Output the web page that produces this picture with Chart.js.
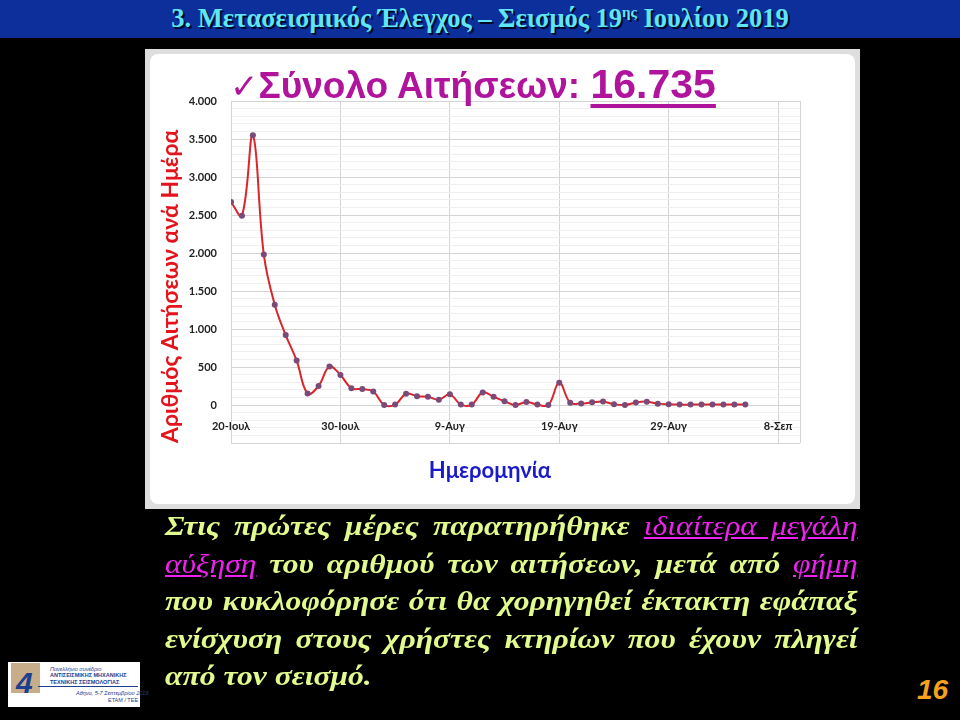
<!DOCTYPE html>
<html>
<head>
<meta charset="utf-8">
<script src="https://cdn.jsdelivr.net/npm/chart.js@4.4.0/dist/chart.umd.min.js"></script>
<style>
  html, body { margin: 0; padding: 0; background: #000; }
  body { width: 960px; height: 720px; position: relative; overflow: hidden; }
  .topbar {
    position: absolute; left: 0; top: 0; width: 960px; height: 38px;
    background: #0d2f9b;
    color: #5fe6f5; font: bold 26.5px "Liberation Serif", "Times New Roman", serif;
    text-align: center; line-height: 37px; text-shadow: 2px 2px 0 #00082a;
  }
  .topbar sup { font-size: 15px; vertical-align: 10px; line-height: 0; }
  .frame {
    position: absolute; left: 145px; top: 49px; width: 715px; height: 460px;
    background: #dedede; box-sizing: border-box; padding: 5px;
  }
  .frame .inner { width: 100%; height: 100%; background: #fff; border-radius: 8px; }
  #wrap { position: absolute; left: 145px; top: 49px; width: 715px; height: 460px; }
  .headline {
    position: absolute; left: 230px; top: 64px; color: #b0149c;
    font: bold 37px/40px "Liberation Sans", Arial, sans-serif; white-space: nowrap;
  }
  .headline .tick { font-family: "DejaVu Sans", sans-serif; font-weight: normal; font-size: 34px; }
  .headline b { font-size: 41px; text-decoration: underline; text-decoration-thickness: 4px; text-underline-offset: 6px; }
  .xtitle {
    position: absolute; left: 390px; top: 456px; width: 200px; text-align: center;
    color: #1a1ac8; font: bold 22px Lato, "Open Sans", sans-serif;
  }
  .body-text {
    position: absolute; left: 165px; top: 508px; width: 592px;
    transform: scaleX(1.17); transform-origin: 0 0;
    color: #e2fb8e; font: italic bold 27px/37.5px "Liberation Serif", "Times New Roman", serif;
  }
  .body-text span { display: block; text-align: justify; text-align-last: justify; }
  .body-text span.last { text-align-last: left; }
  .body-text u { color: #ee22ee; font-weight: normal; }
  .pagenum {
    position: absolute; left: 917px; top: 674px; color: #f5a21c;
    font: italic bold 28px "Liberation Sans", Arial, sans-serif;
  }
  .logo {
    position: absolute; left: 8px; top: 662px; width: 132px; height: 45px; background: #fff;
    font-family: "Liberation Sans", Arial, sans-serif;
  }
  .logo .sq { position: absolute; left: 3px; top: 1px; width: 29px; height: 30px; background: #c8ad8a; }
  .logo .four { position: absolute; left: 8px; top: 4px; color: #1d3f8f; font: bold italic 30px "Liberation Sans", sans-serif; }
  .logo .pulse { position: absolute; left: 30px; top: 24px; width: 100px; height: 1px; background: #1d3f8f; }
  .logo .t { position: absolute; left: 42px; color: #1d3f8f; font-size: 5.5px; font-weight: bold; white-space: nowrap; }
</style>
</head>
<body>
<div class="topbar">3. Μετασεισμικός Έλεγχος – Σεισμός 19<sup>ης</sup> Ιουλίου 2019</div>

<div class="frame"><div class="inner"></div></div>
<div id="wrap"><canvas id="requestsChart"></canvas></div>
<div class="headline"><span class="tick">✓</span>Σύνολο Αιτήσεων: <b>16.735</b></div>
<div class="xtitle">Ημερομηνία</div>

<div class="body-text">
  <span>Στις πρώτες μέρες παρατηρήθηκε <u>ιδιαίτερα μεγάλη</u></span>
  <span><u>αύξηση</u> του αριθμού των αιτήσεων, μετά από <u>φήμη</u></span>
  <span>που κυκλοφόρησε ότι θα χορηγηθεί έκτακτη εφάπαξ</span>
  <span>ενίσχυση στους χρήστες κτηρίων που έχουν πληγεί</span>
  <span class="last">από τον σεισμό.</span>
</div>

<div class="logo">
  <div class="sq"></div>
  <div class="four">4</div>
  <div class="pulse"></div>
  <div class="t" style="top:4px;font-style:italic;font-weight:normal;">Πανελλήνιο συνέδριο</div>
  <div class="t" style="top:10px;">ΑΝΤΙΣΕΙΣΜΙΚΗΣ ΜΗΧΑΝΙΚΗΣ</div>
  <div class="t" style="top:17px;">ΤΕΧΝΙΚΗΣ ΣΕΙΣΜΟΛΟΓΙΑΣ</div>
  <div class="t" style="top:28px;left:68px;font-weight:normal;font-style:italic;">Αθήνα, 5-7 Σεπτεμβρίου 2019</div>
  <div class="t" style="top:35px;left:100px;font-weight:normal;">ΕΤΑΜ / ΤΕΕ</div>
</div>

<div class="pagenum">16</div>

<script>
// daily requests, starting 20 July 2019 (day 0)
const requests = [
  2670, 2490, 3550, 1980, 1320, 920, 585, 150, 250, 505,
  395, 222, 210, 178, 0, 5, 148, 116, 108, 70,
  140, 5, 5, 165, 108, 50, 0, 40, 5, 0,
  292, 30, 20, 35, 45, 10, 0, 33, 44, 18,
  9, 5, 5, 5, 5, 5, 5, 5
];
const dayOffsets = requests.map(function (v, i) { return i; });
const xTickLabels = ["20-Ιουλ", "30-Ιουλ", "9-Αυγ", "19-Αυγ", "29-Αυγ", "8-Σεπ"];
const yTickLabels = ["0", "500", "1.000", "1.500", "2.000", "2.500", "3.000", "3.500", "4.000"];

const FONT = "Lato, 'Open Sans', sans-serif";

document.addEventListener("DOMContentLoaded", function () {
  const ctx = document.getElementById("requestsChart").getContext("2d");

  new Chart(ctx, {
    type: "line",
    data: {
      datasets: [
        {
          data: dayOffsets.map(function (d, i) { return { x: d, y: requests[i] }; }),
          borderColor: "#d9262c",
          borderWidth: 2,
          tension: 0.4,
          pointRadius: 3,
          pointBackgroundColor: "#7a4a78",
          pointBorderColor: "#7a4a78",
          pointBorderWidth: 0,
          fill: false,
        },
      ],
    },
    options: {
      responsive: true,
      maintainAspectRatio: false,
      animation: false,
      layout: { padding: { left: 0, right: 60, top: 52, bottom: 66 } },
      plugins: {
        legend: { display: false },
        tooltip: { enabled: false },
      },
      scales: {
        x: {
          type: "linear",
          position: { y: 0 },
          min: 0,
          max: 52,
          ticks: {
            stepSize: 10,
            padding: 15,
            maxRotation: 0,
            color: "#222",
            font: { family: FONT, size: 11, weight: "bold" },
            callback: function (value) {
              return xTickLabels[value / 10] || "";
            },
          },
          grid: { color: "#d4d4d4", drawTicks: false },
          border: { color: "#d4d4d4" },
        },
        y: {
          min: -500,
          max: 4000,
          afterFit: function (scale) { scale.width = 86; },
          ticks: {
            stepSize: 100,
            autoSkip: false,
            padding: 14,
            color: "#222",
            font: { family: FONT, size: 11, weight: "bold" },
            callback: function (value) {
              if (value < 0 || value % 500 !== 0) return "";
              return yTickLabels[value / 500];
            },
          },
          grid: {
            drawTicks: false,
            color: function (c) {
              return c.tick && c.tick.value % 500 === 0 ? "#d4d4d4" : "#efefef";
            },
          },
          border: { color: "#d4d4d4" },
          title: {
            display: true,
            text: "Αριθμός Αιτήσεων ανά Ημέρα",
            align: "start",
            color: "#e3141b",
            padding: { top: 12, bottom: 0 },
            font: { family: FONT, size: 23, weight: "bold" },
          },
        },
      },
    },
  });
});
</script>
</body>
</html>
